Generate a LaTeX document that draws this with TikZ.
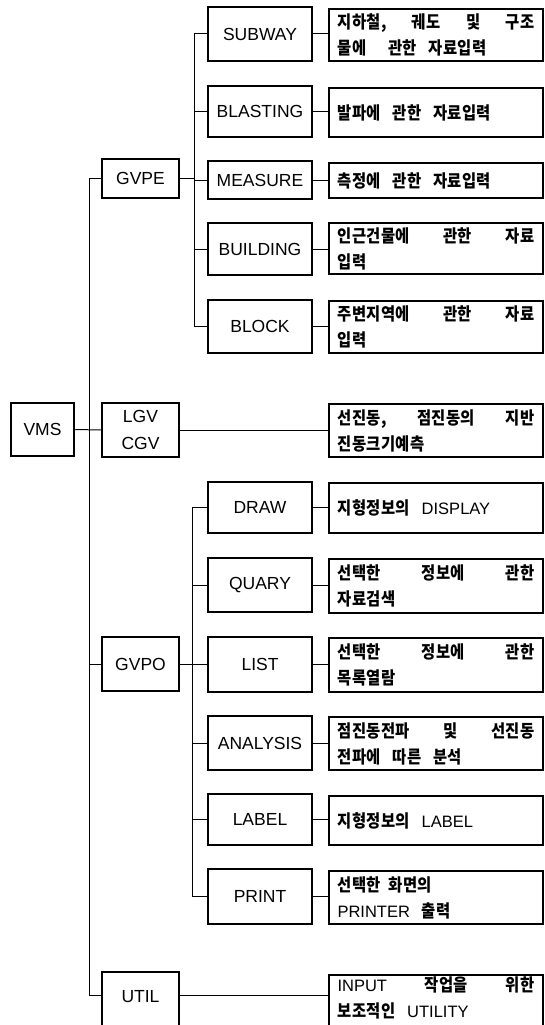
\documentclass[tikz,border=0pt]{standalone}
\usepackage{fontspec}
\setmainfont{Liberation Sans}
\newfontfamily\kr{Noto Sans CJK KR}[LetterSpace=2,FakeStretch=0.88]
\usetikzlibrary{calc}
\newcommand{\K}[1]{{\kr\bfseries\fontsize{17.5}{26}\selectfont #1}}
\newcommand{\jl}[1]{\makebox[197pt][l]{#1}}
\newcommand{\gap}{\hspace{12pt}}
\begin{document}
\begin{tikzpicture}[x=1pt,y=-1pt,
  mainbox/.style={draw,line width=2.5pt,inner sep=0pt,font=\fontsize{17.5}{27}\selectfont,align=center},
  lvlone/.style={mainbox,minimum width=77pt},
  lvltwo/.style={mainbox,minimum width=104pt},
  descbox/.style={draw,line width=1.1pt,inner sep=0pt,minimum width=214pt,text width=197pt,align=left,font=\fontsize{16.5}{26}\selectfont},
  link/.style={line width=1pt}]
\useasboundingbox (0,0) rectangle (544,1025);
\clip (0,0) rectangle (544,1025);
% root
\node[mainbox,minimum width=63pt,minimum height=53pt] (vms) at (42.5,429.5) {VMS};
% level 1
\node[lvlone,minimum height=39pt] (gvpe) at (140.5,178.5) {GVPE};
\node[lvlone,minimum height=54pt] (lgv) at (140.5,430) {LGV\\CGV};
\node[lvlone,minimum height=54pt] (gvpo) at (140.5,664) {GVPO};
\node[lvlone,minimum height=63pt] (util) at (140.5,1003.5) {};
\node (utiltext) at (140.5,997) {\fontsize{17.5}{27}\selectfont UTIL};
% level 2 (GVPE)
\node[lvltwo,minimum height=54pt] (subway) at (260,34) {SUBWAY};
\node[lvltwo,minimum height=51pt] (blasting) at (260,111.5) {BLASTING};
\node[lvltwo,minimum height=38pt] (measure) at (260,180) {MEASURE};
\node[lvltwo,minimum height=52pt] (building) at (260,249) {BUILDING};
\node[lvltwo,minimum height=53pt] (block) at (260,326.5) {BLOCK};
% level 2 (GVPO)
\node[lvltwo,minimum height=51pt] (draw) at (260,507.5) {DRAW};
\node[lvltwo,minimum height=54pt] (quary) at (260,585) {QUARY};
\node[lvltwo,minimum height=55pt] (list) at (260,664.5) {LIST};
\node[lvltwo,minimum height=54pt] (analysis) at (260,743) {ANALYSIS};
\node[lvltwo,minimum height=51pt] (label) at (260,819.5) {LABEL};
\node[lvltwo,minimum height=55pt] (print) at (260,896.5) {PRINT};
% descriptions
\node[descbox,minimum height=52pt] (dsubway) at (436,35)
  {\jl{\K{지하철,}\hfill\K{궤도}\hfill\K{및}\hfill\K{구조}}\\\K{물에\hspace{22pt}관한\hspace{12pt}자료입력}};
\node[descbox,minimum height=49pt] (dblasting) at (436,112.5)
  {\K{발파에\gap 관한\gap 자료입력}};
\node[descbox,minimum height=35pt] (dmeasure) at (436,180.5)
  {\K{측정에\gap 관한\gap 자료입력}};
\node[descbox,minimum height=51pt] (dbuilding) at (436,248.5)
  {\jl{\K{인근건물에}\hfill\K{관한}\hfill\K{자료}}\\\K{입력}};
\node[descbox,minimum height=52pt] (dblock) at (436,327)
  {\jl{\K{주변지역에}\hfill\K{관한}\hfill\K{자료}}\\\K{입력}};
\node[descbox,minimum height=53pt] (dlgv) at (436,430.5)
  {\jl{\K{선진동,}\hfill\K{점진동의}\hfill\K{지반}}\\\K{진동크기예측}};
\node[descbox,minimum height=50pt] (ddraw) at (436,508)
  {\K{지형정보의}\gap DISPLAY};
\node[descbox,minimum height=54pt] (dquary) at (436,586)
  {\jl{\K{선택한}\hfill\K{정보에}\hfill\K{관한}}\\\K{자료검색}};
\node[descbox,minimum height=54pt] (dlist) at (436,665)
  {\jl{\K{선택한}\hfill\K{정보에}\hfill\K{관한}}\\\K{목록열람}};
\node[descbox,minimum height=53pt] (danalysis) at (436,743.5)
  {\jl{\K{점진동전파}\hfill\K{및}\hfill\K{선진동}}\\\K{전파에\gap 따른\gap 분석}};
\node[descbox,minimum height=49pt] (dlabel) at (436,820.5)
  {\K{지형정보의}\gap LABEL};
\node[descbox,minimum height=53pt] (dprint) at (436,897.5)
  {\K{선택한\hspace{8pt}화면의}\\PRINTER\gap\K{출력}};
\node[descbox,minimum height=60pt] (dutil) at (436,1005) {};
\node[text width=197pt,align=left,inner sep=0pt,font=\fontsize{16.5}{26}\selectfont] (tutil) at (436,998)
  {\jl{INPUT\hfill\K{작업을}\hfill\K{위한}}\\\K{보조적인}\gap UTILITY};
% spine coordinates
\coordinate (s0) at (89,0);
\coordinate (s1) at (194,0);
\coordinate (s2) at (192,0);
\coordinate (uj) at ($(util.north west)+(0,25)$);
% VMS tree
\draw[link] (s0 |- gvpe.west) -- (s0 |- uj);
\draw[link] (s0 |- gvpe.west) -- (gvpe.west);
\draw[link] (vms.east) -- (lgv.west);
\draw[link] (s0 |- gvpo.west) -- (gvpo.west);
\draw[link] (s0 |- uj) -- (uj);
% GVPE subtree
\draw[link] (s1 |- subway.west) -- (s1 |- block.west);
\draw[link] (gvpe.east) -- (s1 |- gvpe.east);
\foreach \n in {subway,blasting,measure,building,block}{
  \draw[link] (s1 |- \n.west) -- (\n.west);
  \draw[link] (\n.east) -- (\n.east -| d\n.west);
}
% LGV
\draw[link] (lgv.east) -- (lgv.east -| dlgv.west);
% GVPO subtree
\draw[link] (s2 |- draw.west) -- (s2 |- print.west);
\draw[link] (gvpo.east) -- (s2 |- gvpo.east);
\foreach \n in {draw,quary,list,analysis,label,print}{
  \draw[link] (s2 |- \n.west) -- (\n.west);
  \draw[link] (\n.east) -- (\n.east -| d\n.west);
}
% UTIL
\draw[link] (util.east |- uj) -- (dutil.west |- uj);
\end{tikzpicture}
\end{document}
